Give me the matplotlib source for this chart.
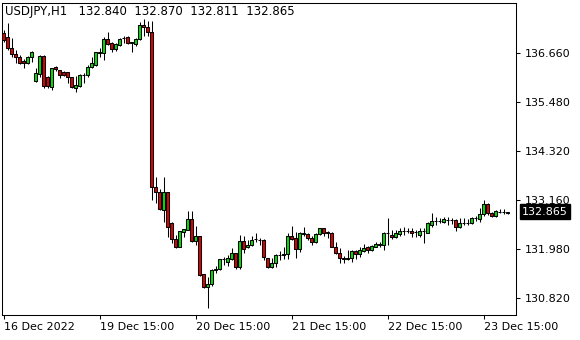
import numpy as np
import matplotlib
matplotlib.use('Agg')
import matplotlib.pyplot as plt

symbol = "USDJPY,H1"

# hourly bars (index 0 = 16 Dec 15:00)
opens = [
    137.13, 137.03, 136.77, 136.63, 136.56, 136.46, 136.41, 136.56, 135.99, 136.15,
    136.58, 136.08, 135.84, 136.32, 136.25, 136.20, 136.20, 136.08, 135.82, 135.87,
    136.13, 136.13, 136.32, 136.37, 136.65, 136.65, 136.99, 136.89, 136.75, 136.84,
    137.01, 137.03, 136.92, 136.87, 136.99, 137.32, 137.27, 137.15, 133.46, 133.34,
    132.91, 133.34, 132.60, 132.22, 132.03, 132.39, 132.43, 132.70, 132.17, 132.29,
    131.38, 131.07, 131.15, 131.48, 131.50, 131.74, 131.67, 131.74, 131.88, 131.55,
    132.17, 132.03, 132.08, 132.22, 132.19, 132.19, 131.77, 131.55, 131.65, 131.84,
    131.84, 131.86, 132.29, 132.24, 131.98, 132.34, 132.34, 132.24, 132.15, 132.34,
    132.48, 132.38, 132.36, 132.03, 131.88, 131.77, 131.77, 131.77, 131.93, 131.86,
    131.93, 132.03, 131.96, 132.03, 132.10, 132.08, 132.36, 132.31, 132.27, 132.34,
    132.41, 132.41, 132.41, 132.39, 132.31, 132.41, 132.36, 132.55, 132.65, 132.65,
    132.62, 132.67, 132.67, 132.67, 132.50, 132.60, 132.60, 132.60, 132.72, 132.70,
    132.81, 133.05, 132.84, 132.77, 132.86, 132.87, 132.840]

highs = [
    137.20, 137.37, 137.01, 136.72, 136.61, 136.51, 136.58, 136.70, 136.30, 136.61,
    136.61, 136.10, 136.30, 136.34, 136.25, 136.22, 136.20, 136.08, 136.10, 136.15,
    136.18, 136.37, 136.56, 136.68, 136.77, 137.03, 137.15, 136.92, 136.89, 137.01,
    137.06, 137.06, 136.92, 137.01, 137.39, 137.46, 137.42, 137.42, 133.70, 133.41,
    133.70, 133.34, 132.62, 132.31, 132.41, 132.46, 132.89, 132.89, 132.53, 132.29,
    131.38, 131.31, 131.50, 131.57, 131.74, 131.79, 131.84, 132.00, 131.88, 132.31,
    132.29, 132.20, 132.29, 132.36, 132.24, 132.22, 131.77, 131.77, 131.86, 131.93,
    132.03, 132.36, 132.53, 132.39, 132.39, 132.50, 132.36, 132.29, 132.36, 132.48,
    132.48, 132.41, 132.39, 132.15, 132.00, 131.81, 131.96, 131.96, 131.96, 132.03,
    132.10, 132.05, 132.08, 132.15, 132.15, 132.39, 132.72, 132.43, 132.43, 132.48,
    132.50, 132.48, 132.48, 132.43, 132.48, 132.48, 132.62, 132.84, 132.74, 132.72,
    132.74, 132.74, 132.72, 132.70, 132.72, 132.72, 132.70, 132.74, 132.77, 132.96,
    133.15, 133.08, 132.86, 132.91, 132.93, 132.93, 132.870]

lows = [
    136.92, 136.72, 136.56, 136.41, 136.39, 136.30, 136.39, 136.44, 135.96, 136.08,
    135.82, 135.82, 135.77, 136.22, 136.06, 136.10, 135.94, 135.82, 135.72, 135.84,
    135.94, 136.08, 136.30, 136.34, 136.56, 136.49, 136.84, 136.68, 136.70, 136.82,
    136.89, 136.87, 136.68, 136.82, 136.96, 137.06, 137.06, 133.15, 133.08, 132.91,
    132.62, 132.27, 132.12, 132.00, 132.03, 132.27, 132.43, 132.15, 132.08, 131.34,
    131.05, 130.57, 131.10, 131.41, 131.48, 131.60, 131.58, 131.72, 131.50, 131.50,
    131.88, 132.00, 132.05, 132.15, 132.08, 131.72, 131.53, 131.53, 131.55, 131.72,
    131.74, 131.74, 132.19, 131.77, 131.91, 132.29, 132.19, 132.08, 132.12, 132.31,
    132.29, 132.24, 132.03, 131.86, 131.65, 131.65, 131.72, 131.67, 131.74, 131.79,
    131.91, 131.88, 131.93, 132.03, 132.03, 131.96, 132.08, 132.22, 132.24, 132.29,
    132.31, 132.36, 132.27, 132.27, 132.27, 132.12, 132.36, 132.50, 132.55, 132.60,
    132.60, 132.55, 132.58, 132.41, 132.48, 132.55, 132.55, 132.58, 132.65, 132.62,
    132.77, 132.79, 132.74, 132.74, 132.84, 132.81, 132.811]

closes = [
    136.96, 136.77, 136.63, 136.56, 136.41, 136.41, 136.56, 136.68, 136.18, 136.58,
    135.87, 135.87, 136.30, 136.27, 136.13, 136.13, 136.08, 135.84, 135.89, 136.13,
    136.12, 136.32, 136.41, 136.68, 136.67, 136.99, 136.87, 136.75, 136.87, 136.99,
    137.00, 136.89, 136.90, 136.99, 137.32, 137.27, 137.15, 133.46, 133.34, 132.93,
    133.34, 132.50, 132.22, 132.03, 132.41, 132.46, 132.70, 132.17, 132.29, 131.36,
    131.07, 131.15, 131.48, 131.50, 131.74, 131.75, 131.77, 131.89, 131.55, 132.17,
    131.98, 132.08, 132.19, 132.21, 132.20, 131.79, 131.55, 131.65, 131.84, 131.83,
    131.86, 132.29, 132.22, 131.98, 132.36, 132.36, 132.24, 132.15, 132.34, 132.48,
    132.36, 132.37, 132.03, 131.88, 131.77, 131.75, 131.75, 131.93, 131.86, 131.96,
    132.00, 131.96, 132.05, 132.10, 132.08, 132.36, 132.37, 132.27, 132.36, 132.41,
    132.40, 132.42, 132.36, 132.38, 132.41, 132.40, 132.60, 132.65, 132.64, 132.65,
    132.70, 132.67, 132.66, 132.50, 132.60, 132.59, 132.60, 132.72, 132.71, 132.81,
    133.05, 132.84, 132.77, 132.88, 132.87, 132.86, 132.865]

time_ticks = [0, 24, 48, 72, 96, 120]
time_labels = ['16 Dec 2022', '19 Dec 15:00', '20 Dec 15:00',
               '21 Dec 15:00', '22 Dec 15:00', '23 Dec 15:00']
price_ticks = [136.660, 135.480, 134.320, 133.160, 131.980, 130.820]

o = np.array(opens)
h = np.array(highs)
l = np.array(lows)
c = np.array(closes)
idx = np.arange(len(o))

W, H = 580, 340
fig = plt.figure(figsize=(W / 100, H / 100), dpi=100)
fig.patch.set_facecolor('white')
# plot frame in pixels: x 2..516, y 3..315
ax = fig.add_axes([2 / W, 1 - 315 / H, 514 / W, 312 / H])

bull = '#00e000'
bear = '#e00000'
colors = np.where(c > o, bull, bear)

ax.vlines(idx, l, h, color='black', linewidth=0.75, zorder=2)
ax.bar(idx, c - o, bottom=o, width=0.7, color=colors,
       edgecolor='black', linewidth=0.75, zorder=3)

ax.set_xlim(-0.375, 128.125)
ax.set_ylim(130.407, 137.845)

ax.yaxis.tick_right()
ax.set_yticks(price_ticks)
ax.set_yticklabels(['%.3f' % p for p in price_ticks])
ax.set_xticks(time_ticks)
ax.set_xticklabels(time_labels, ha='left')

ax.tick_params(axis='both', direction='out', length=3, width=0.75,
               colors='black', labelsize=8)
ax.tick_params(axis='x', pad=2)
ax.tick_params(axis='y', pad=3)
for s in ax.spines.values():
    s.set_color('black')
    s.set_linewidth(0.75)

# OHLC header
fig.text(5 / W, 1 - 12 / H,
         '%s   %.3f  %.3f  %.3f  %.3f' % (symbol, o[-1], h[-1], l[-1], c[-1]),
         fontsize=8.5, color='black', va='center', ha='left')

# last price marker on the price scale
ax.text(1.0 + 6 / 514, c[-1], '%.3f' % c[-1], transform=ax.get_yaxis_transform(),
        fontsize=8, color='white', va='center', ha='left', zorder=10,
        bbox=dict(boxstyle='square,pad=0.22', fc='black', ec='black'),
        clip_on=False)

fig.savefig('out.png', dpi=100)
